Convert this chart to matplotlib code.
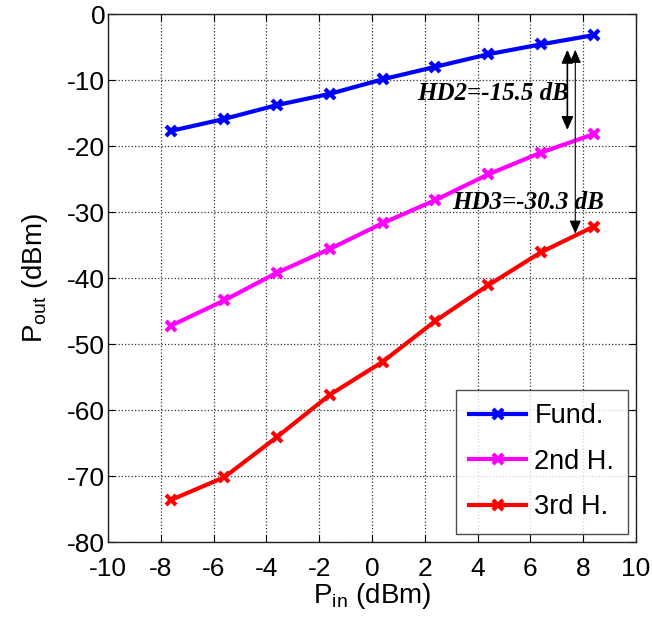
import matplotlib
matplotlib.use("Agg")
import matplotlib.pyplot as plt

p_in = [-7.6, -5.6, -3.6, -1.6, 0.4, 2.4, 4.4, 6.4, 8.4]
fund = [-17.7, -15.9, -13.8, -12.1, -9.9, -8.0, -6.1, -4.6, -3.2]
h2 = [-47.2, -43.4, -39.2, -35.6, -31.7, -28.2, -24.3, -21.0, -18.2]
h3 = [-73.6, -70.2, -64.1, -57.7, -52.7, -46.5, -41.1, -36.1, -32.2]
labels = ["Fund.", "2nd H.", "3rd H."]
colors = ["#0000ff", "#ff00ff", "#ff0000"]
xticks = list(range(-10, 11, 2))
yticks = list(range(-80, 1, 10))

plt.rcParams['font.family'] = ['Liberation Sans', 'DejaVu Sans']
plt.rcParams['axes.unicode_minus'] = False

fig = plt.figure(figsize=(6.52, 6.27), dpi=100)
ax = fig.add_axes([108/652, (627-542)/627, (636-108)/652, (542-14)/627])

for ys, lab, c in zip([fund, h2, h3], labels, colors):
    ax.plot(p_in, ys, color=c, lw=3, marker='x', ms=7, mew=3, label=lab)

ax.set_xlim(-10, 10)
ax.set_ylim(-80, 0)
ax.set_xticks(xticks)
ax.set_yticks(yticks)
ax.tick_params(direction='in', top=True, right=True, labelsize=19, length=5, width=0.8)
ax.tick_params(axis='x', pad=11)
ax.tick_params(axis='y', pad=2)
ax.grid(True, linestyle=':', color='#333333', lw=0.9)
for s in ax.spines.values():
    s.set_color('#222222')
    s.set_linewidth(1.0)

ax.set_xlabel(r'P$_{\mathregular{in}}$ (dBm)', fontsize=20, labelpad=0)
ax.set_ylabel(r'P$_{\mathregular{out}}$ (dBm)', fontsize=20, labelpad=12)

# annotations
ax.annotate('', xy=(7.4, -18.0), xytext=(7.4, -5.0),
            arrowprops=dict(arrowstyle='<|-|>,head_length=0.8,head_width=0.35', color='black', lw=1.2))
ax.annotate('', xy=(7.7, -33.7), xytext=(7.7, -5.0),
            arrowprops=dict(arrowstyle='<|-|>,head_length=0.8,head_width=0.35', color='black', lw=0.8))
ax.text(1.7, -12.0, 'HD2=-15.5 dB', family=['Liberation Serif'], style='italic', weight='bold',
        fontsize=18, va='center', ha='left')
ax.text(3.05, -28.6, 'HD3=-30.3 dB', family=['Liberation Serif'], style='italic', weight='bold',
        fontsize=18, va='center', ha='left')

leg = ax.legend(loc='lower right', fontsize=19.5, frameon=True, fancybox=False, edgecolor='#222222',
                handlelength=2.1, handletextpad=0.3, borderpad=0.5, labelspacing=0.72,
                borderaxespad=0,
                bbox_to_anchor=(628/652, (627-534)/627), bbox_transform=fig.transFigure)
leg.get_frame().set_linewidth(1.0)

fig.savefig('out.png', dpi=100)
